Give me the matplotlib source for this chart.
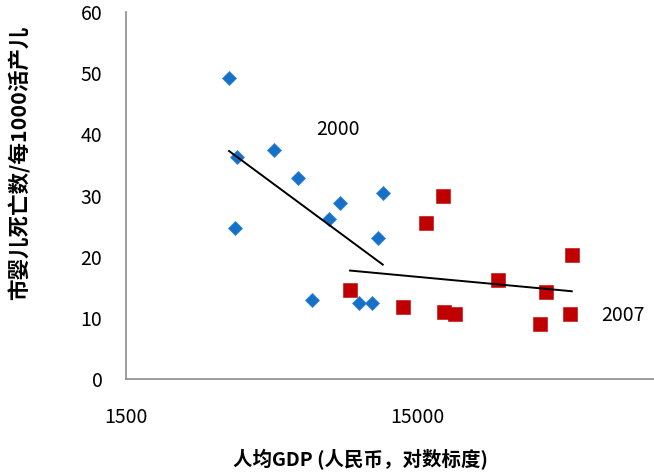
import matplotlib
matplotlib.use("Agg")
import matplotlib.pyplot as plt
import numpy as np

plt.rcParams['font.family'] = ['Noto Sans CJK SC', 'DejaVu Sans']

# 2000 (blue diamonds)
gdp_2000 = [3390, 3610, 4830, 5840, 8180, 11440, 7480, 3560, 10990, 6520, 9480, 10530]
imr_2000 = [49.2, 36.3, 37.5, 32.9, 28.8, 30.4, 26.2, 24.7, 23.1, 12.9, 12.4, 12.4]

# 2007 (red squares)
gdp_2007 = [18430, 16140, 51020, 28410, 41620, 8830, 13430, 18620, 20310, 39790, 50220]
imr_2007 = [30.0, 25.5, 20.3, 16.2, 14.3, 14.5, 11.7, 11.0, 10.6, 9.0, 10.6]

x_ticks = [1500, 15000]
y_ticks = [0, 10, 20, 30, 40, 50, 60]

fig = plt.figure(figsize=(6.54, 4.76), dpi=100)
ax = fig.add_axes([126 / 654, 1 - 379 / 476, 1 - 126 / 654, (379 - 12) / 476])

ax.plot(gdp_2000, imr_2000, 'D', color='#1570C8', markersize=7.5,
        markeredgecolor='#3A86D0', markeredgewidth=0.6, zorder=3)
ax.plot(gdp_2007, imr_2007, 's', color='#C00000', markersize=10.4,
        markeredgecolor='#C00000', markeredgewidth=0.4, zorder=3)

# logarithmic trend lines
for gx, gy in [(gdp_2000, imr_2000), (gdp_2007, imr_2007)]:
    a, b = np.polyfit(np.log(gx), gy, 1)
    xs = np.array([min(gx), max(gx)])
    ax.plot(xs, a * np.log(xs) + b, color='black', lw=1.4, zorder=4)

ax.text(8010, 40.8, '2000', fontsize=14, ha='center', va='center')
ax.text(76400, 10.35, '2007', fontsize=14, ha='center', va='center')

ax.set_xscale('log')
ax.set_xlim(1500, 97800)
ax.set_ylim(0, 60)
ax.set_xticks(x_ticks)
ax.set_xticklabels([str(v) for v in x_ticks])
ax.xaxis.set_minor_locator(matplotlib.ticker.NullLocator())
ax.set_yticks(y_ticks)
ax.tick_params(axis='both', length=0, labelsize=14)
ax.tick_params(axis='y', pad=17)
ax.tick_params(axis='x', pad=20)

for s in ['top', 'right']:
    ax.spines[s].set_visible(False)
for s in ['left', 'bottom']:
    ax.spines[s].set_color('#8C8C8C')
    ax.spines[s].set_linewidth(1.2)

fig.text(20 / 654, 1 - 163 / 476, '市婴儿死亡数/每1000活产儿', rotation=90,
         fontsize=15.5, fontweight='bold', ha='center', va='center')
fig.text(360 / 654, 1 - 460 / 476, '人均GDP (人民币，对数标度)',
         fontsize=14, fontweight='bold', ha='center', va='center')

fig.savefig('out.png', dpi=100)
